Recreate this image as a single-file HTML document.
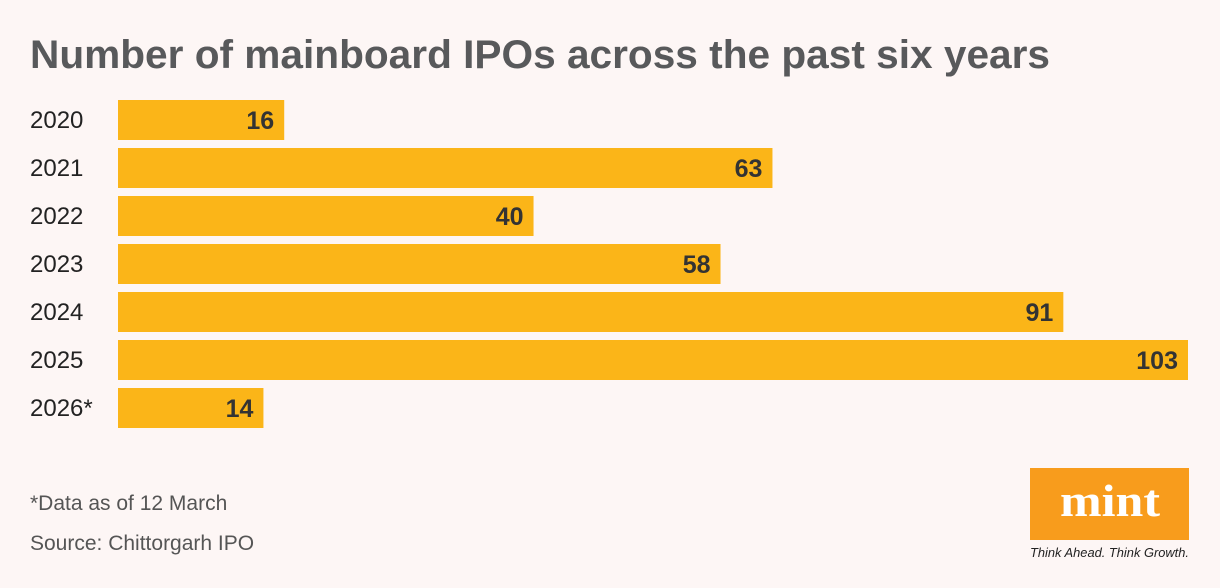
<!DOCTYPE html>
<html><head><meta charset="utf-8">
<style>
body{margin:0;background:#fdf6f5;}
svg{display:block;font-family:"Liberation Sans",sans-serif;}
</style></head>
<body>
<svg id="chart" width="1220" height="588">
<rect width="1220" height="588" fill="#fdf6f5"/>
<text x="30" y="68" font-size="40" font-weight="bold" fill="#58595b" textLength="1020" lengthAdjust="spacingAndGlyphs">Number of mainboard IPOs across the past six years</text>
<g id="bars"></g>
<text x="30" y="510" font-size="21" fill="#555">*Data as of 12 March</text>
<text x="30" y="550" font-size="21" fill="#555">Source: Chittorgarh IPO</text>
<rect x="1030" y="468" width="159" height="72" fill="#f89c1c"/>
<text x="1110" y="516" font-size="46" font-weight="bold" fill="#fff" text-anchor="middle" font-family="Liberation Serif,serif" textLength="100" lengthAdjust="spacingAndGlyphs">mint</text>
<text x="1030" y="557" font-size="13" font-style="italic" fill="#222" textLength="159" lengthAdjust="spacingAndGlyphs">Think Ahead. Think Growth.</text>
</svg>
<script>
const categories=["2020","2021","2022","2023","2024","2025","2026*"];
const values=[16,63,40,58,91,103,14];
const maxVal=103;
const x0=118,x1=1188,y0=100,pitch=48,bh=40;
function xs(v){return x0+(x1-x0)*v/maxVal;}
function ys(i){return y0+i*pitch;}
const g=document.getElementById('bars');
const ns="http://www.w3.org/2000/svg";
categories.forEach((c,i)=>{
  const r=document.createElementNS(ns,'rect');
  r.setAttribute('x',x0);r.setAttribute('y',ys(i));
  r.setAttribute('width',xs(values[i])-x0);r.setAttribute('height',bh);
  r.setAttribute('fill','#fbb518');
  
  
  g.appendChild(r);
  const l=document.createElementNS(ns,'text');
  l.setAttribute('x',30);l.setAttribute('y',ys(i)+bh/2+8);
  l.setAttribute('font-size','24');l.setAttribute('fill','#222');
  l.textContent=c;
  
  
  g.appendChild(l);
  const v=document.createElementNS(ns,'text');
  v.setAttribute('x',xs(values[i])-10);v.setAttribute('y',ys(i)+bh/2+9);
  v.setAttribute('font-size','25');v.setAttribute('font-weight','bold');
  v.setAttribute('fill','#333');v.setAttribute('text-anchor','end');
  v.textContent=values[i];
  
  
  g.appendChild(v);
});
</script>
</body></html>
